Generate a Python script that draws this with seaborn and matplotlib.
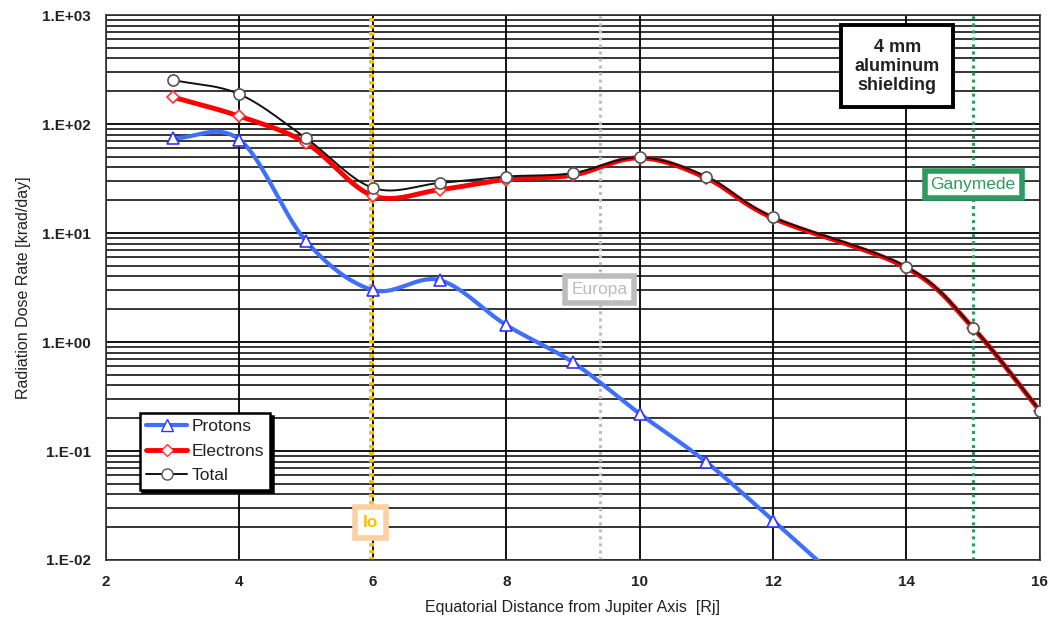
import numpy as np
import pandas as pd
import matplotlib
matplotlib.use("Agg")
import matplotlib.pyplot as plt
import matplotlib.ticker as mticker
import seaborn as sns

# Dose rate behind 4 mm aluminium, krad/day, vs equatorial distance (Rj)
distance = [3, 4, 5, 6, 7, 8, 9, 10, 11, 12, 13]
protons = [74, 72, 8.4, 3.0, 3.7, 1.43, 0.65, 0.22, 0.079, 0.023, 0.0065]

distance_e = [3, 4, 5, 6, 7, 8, 9, 10, 11, 12, 14, 15, 16]
electrons = [177, 118, 67, 22, 25, 31, 34, 49, 32, 13.7, 4.8, 1.34, 0.233]
total = [254, 188, 74, 26, 28.8, 33, 35.5, 49.5, 33, 14, 4.9, 1.35, 0.235]

moons = ["Io", "Europa", "Ganymede"]
moon_distance = [5.97, 9.4, 15.0]
moon_colors = ["#FFC000", "#BDBDBD", "#2E9A5E"]
moon_edge = ["#FCD0A0", "#BDBDBD", "#2E9A5E"]
moon_label_y = [0.022, 3.05, 28]

x_ticks = [2, 4, 6, 8, 10, 12, 14, 16]


def smooth(xs, ys, n=24):
    """Catmull-Rom curve through the points, in log10(y) space."""
    x = np.asarray(xs, float)
    y = np.log10(np.asarray(ys, float))
    px = np.concatenate([[2 * x[0] - x[1]], x, [2 * x[-1] - x[-2]]])
    py = np.concatenate([[2 * y[0] - y[1]], y, [2 * y[-1] - y[-2]]])
    ox, oy = [], []
    for i in range(1, len(px) - 2):
        t = np.linspace(0, 1, n, endpoint=False)
        for arr, out in ((px, ox), (py, oy)):
            p0, p1, p2, p3 = arr[i - 1], arr[i], arr[i + 1], arr[i + 2]
            out.extend(0.5 * ((2 * p1) + (-p0 + p2) * t
                              + (2 * p0 - 5 * p1 + 4 * p2 - p3) * t ** 2
                              + (-p0 + 3 * p1 - 3 * p2 + p3) * t ** 3))
    ox.append(x[-1]); oy.append(y[-1])
    return pd.DataFrame({"x": ox, "y": 10 ** np.asarray(oy)})


sns.set_theme(style="white")
plt.rcParams["font.family"] = ["Liberation Sans", "DejaVu Sans"]

fig = plt.figure(figsize=(10.54, 6.27), dpi=100)
ax = fig.add_axes([0.1006, 0.1069, 0.886, 0.869])
ax.set_yscale("log")
ax.set_xlim(2, 16)
ax.set_ylim(1e-2, 1e3)

# grid: every decade and sub-decade line, plus even x values
ax.yaxis.set_major_locator(mticker.LogLocator(base=10, numticks=10))
ax.yaxis.set_minor_locator(mticker.LogLocator(base=10, subs=np.arange(2, 10), numticks=100))
ax.yaxis.set_major_formatter(mticker.FuncFormatter(lambda v, p: "1.E{:+03d}".format(int(round(np.log10(v))))))
ax.yaxis.set_minor_formatter(mticker.NullFormatter())
ax.set_xticks(x_ticks)
ax.xaxis.set_minor_locator(mticker.MultipleLocator(0.5))
ax.grid(True, which="major", axis="both", color="black", lw=1.3)
ax.grid(True, which="minor", axis="y", color="black", lw=1.1)
ax.set_axisbelow(True)

ax.tick_params(axis="both", which="major", direction="out", length=5, width=1.2,
               color="#222222", labelsize=11, labelcolor="#222222", pad=6)
ax.tick_params(axis="x", which="minor", direction="out", length=4, width=1.2, color="#222222")
ax.tick_params(axis="y", which="minor", length=0)
for lab in ax.get_xticklabels() + ax.get_yticklabels():
    lab.set_fontweight("bold")
for s in ax.spines.values():
    s.set_color("#333333")
    s.set_linewidth(1.2)

# moon orbits
for name, xm, c, ec, ly in zip(moons, moon_distance, moon_colors, moon_edge, moon_label_y):
    if name == "Io":
        ax.axvline(xm, color=c, lw=3.6, ls=(0, (0.7, 0.7)), zorder=2)
        pad = 0.45
    else:
        ax.axvline(xm, color=c, lw=2.2, ls=(0, (1, 1.3)), zorder=2)
        pad = 0.35
    ax.text(xm, ly, name, color=c, fontsize=12.5, ha="center", va="center", zorder=6,
            fontweight="bold" if name == "Io" else "normal",
            bbox=dict(boxstyle=f"square,pad={pad}", fc="white", ec=ec, lw=4))

# smooth curves
curves = [
    (distance, protons, "#3F6FFF", 3.0, "^", "#3333FF", "Protons"),
    (distance_e, electrons, "#FF0000", 3.5, "D", "#FF3333", "Electrons"),
    (distance_e, total, "#111111", 1.4, "o", "#555555", "Total"),
]
handles = []
for i, (xs, ys, col, lw, mk, mec, lab) in enumerate(curves):
    sm = smooth(xs, ys)
    sns.lineplot(data=sm, x="x", y="y", ax=ax, color=col, lw=lw, sort=False,
                 estimator=None, zorder=3 + i, legend=False)
    pts = pd.DataFrame({"x": xs, "y": ys})
    ms = 6 if mk == "D" else 8
    ax.plot(pts["x"], pts["y"], ls="none", marker=mk, ms=ms, mfc="white", mec=mec,
            mew=1.2, zorder=3.5 + i, clip_on=True)
    handles.append(plt.Line2D([], [], color=col, lw=lw, marker=mk, ms=ms,
                              mfc="white", mec=mec, label=lab))

leg = ax.legend(handles=handles, loc="upper left", bbox_to_anchor=(0.036, 0.27),
                frameon=True, fancybox=False, fontsize=12.5, handlelength=2.4,
                handletextpad=0.25, borderpad=0.35, labelspacing=0.55, borderaxespad=0,
                shadow={"color": "black", "alpha": 1.0}, framealpha=1)
leg.get_frame().set_edgecolor("black")
leg.get_frame().set_linewidth(1.8)
leg.set_zorder(10)
for t in leg.get_texts():
    t.set_color("#222222")

ax.text(13.86, 340, "4 mm\naluminum\nshielding", ha="center", va="center",
        fontsize=13, fontweight="bold", color="#222222", linespacing=1.15, zorder=7,
        bbox=dict(boxstyle="square,pad=0.75", fc="white", ec="black", lw=2.8))

ax.set_xlabel("Equatorial Distance from Jupiter Axis  [Rj]", fontsize=11.5, color="#222222", labelpad=8)
ax.set_ylabel("Radiation Dose Rate [krad/day]", fontsize=11.5, color="#222222", labelpad=8)

fig.savefig("out.png", dpi=100, facecolor="white")
